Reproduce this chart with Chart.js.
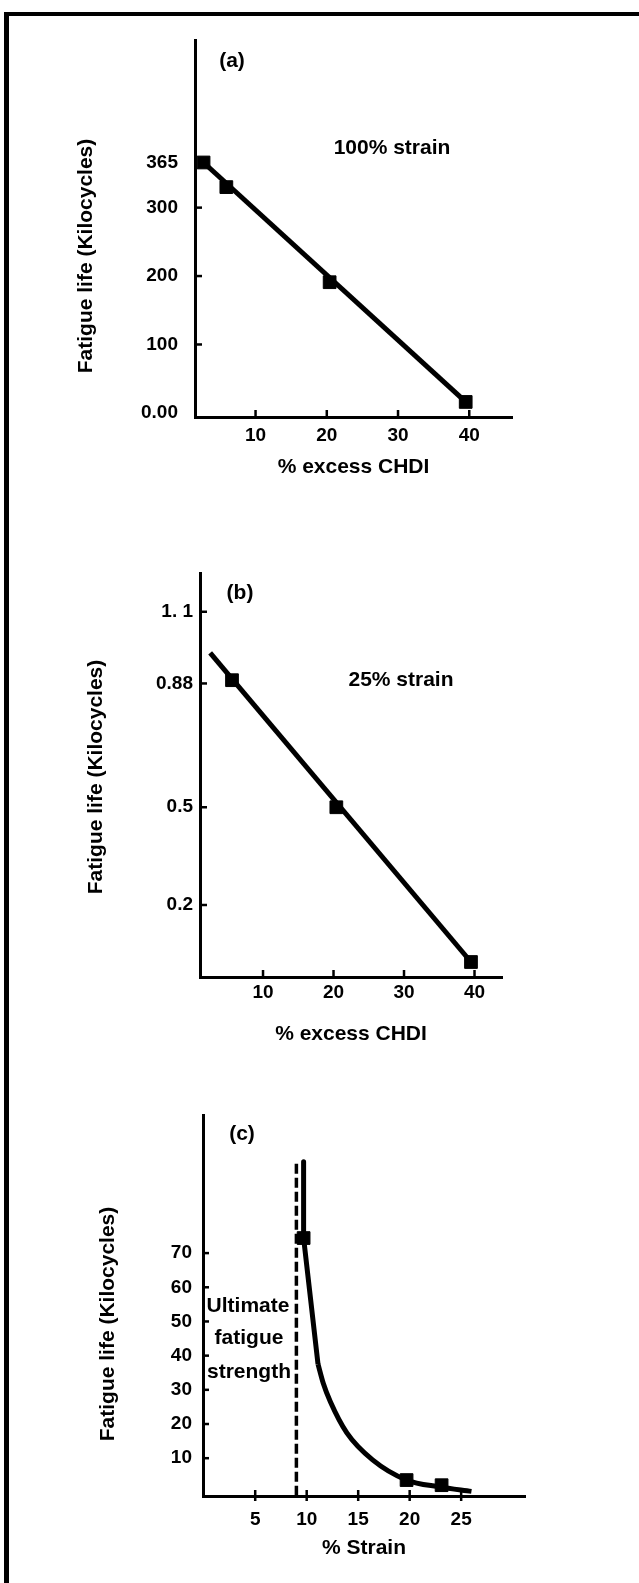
<!DOCTYPE html>
<html>
<head>
<meta charset="utf-8">
<script src="https://cdn.jsdelivr.net/npm/chart.js@4.4.1/dist/chart.umd.min.js"></script>
<style>
  html, body { margin: 0; padding: 0; background: #fff; }
  body { width: 639px; height: 1583px; position: relative; overflow: hidden; }
  .frame { position: absolute; left: 4px; top: 12px; right: 0; bottom: 0;
           border-left: 5px solid #000; border-top: 4px solid #000; }
  canvas { position: absolute; left: 0; }
</style>
</head>
<body>
<div class="frame"></div>
<canvas id="chartA" width="639" height="500" style="top:0px"></canvas>
<canvas id="chartB" width="639" height="532" style="top:520px"></canvas>
<canvas id="chartC" width="639" height="523" style="top:1060px"></canvas>
<script>
// (a) 100% strain
const chdiA = [2.7, 5.9, 20.4, 39.5];
const lifeA = [366, 330, 191, 16];
const fitAx = [2.7, 39.5];
const fitAy = [366, 16];
const yTicksA = [0, 100, 200, 300, 365];
const yLabelsA = ['0.00', '100', '200', '300', '365'];
const xTicksA = [10, 20, 30, 40];

// (b) 25% strain
const chdiB = [5.6, 20.4, 39.5];
const lifeB = [0.89, 0.50, 0.025];
const fitBx = [2.5, 39.5];
const fitBy = [0.974, 0.025];
const yTicksB = [0.2, 0.5, 0.88, 1.1];
const yLabelsB = ['0.2', '0.5', '0.88', '1. 1'];
const xTicksB = [10, 20, 30, 40];

// (c) fatigue life vs strain
const strainC = [9.7, 19.7, 23.1];
const lifeC = [74.4, 3.6, 2.1];
// steep upper part of the curve
const steepCx = [9.7, 9.7, 11.1];
const steepCy = [96.7, 74.4, 37.5];
// curved tail
const tailCx = [11.1, 11.6, 12.3, 13.9, 16.4, 19.7, 22.9, 26.0];
const tailCy = [37.5, 32.0, 26.5, 17.4, 9.5, 3.6, 1.6, 0.3];
const limitCx = [9, 9];
const limitCy = [-1, 97];
const yTicksC = [10, 20, 30, 40, 50, 60, 70];
const xTicksC = [5, 10, 15, 20, 25];

const FONT = "'Liberation Sans', Arial, Helvetica, sans-serif";
const ytitle = 'Fatigue life (Kilocycles)';

function pts(xs, ys) {
    return xs.map((x, i) => ({ x: x, y: ys[i] }));
}

function markers(xs, ys) {
    return { data: pts(xs, ys), showLine: false, pointStyle: 'rect', pointRadius: 9,
             backgroundColor: '#000', borderColor: '#000', borderWidth: 1 };
}

function line(xs, ys, width, dash, smooth) {
    const ds = { data: pts(xs, ys), showLine: true, borderColor: '#000', borderWidth: width,
                 borderDash: dash || [], pointRadius: 0, tension: 0, fill: false,
                 borderCapStyle: 'butt', borderJoinStyle: 'round' };
    if (smooth) ds.cubicInterpolationMode = 'monotone';
    return ds;
}

// texts placed on the canvas (panel letters, notes, y titles)
const notesPlugin = {
    id: 'notes',
    afterDraw(chart, args, opts) {
        const ctx = chart.ctx;
        (opts.items || []).forEach(n => {
            ctx.save();
            ctx.fillStyle = '#000';
            ctx.textAlign = 'center';
            ctx.textBaseline = 'middle';
            ctx.font = 'bold ' + (n.size || 21) + 'px ' + FONT;
            ctx.translate(n.x, n.y);
            if (n.rot) ctx.rotate(n.rot);
            ctx.fillText(n.text, 0, 0);
            ctx.restore();
        });
    }
};

// short tick marks pointing into the plot
const tickPlugin = {
    id: 'inTicks',
    afterDraw(chart, args, opts) {
        const ctx = chart.ctx, a = chart.chartArea;
        const xs = chart.scales.x, ys = chart.scales.y;
        ctx.save();
        ctx.strokeStyle = '#000';
        ctx.lineWidth = 2.5;
        (opts.x || []).forEach(v => {
            const px = xs.getPixelForValue(v);
            ctx.beginPath();
            ctx.moveTo(px, a.bottom + (opts.down || 0));
            ctx.lineTo(px, a.bottom - opts.len);
            ctx.stroke();
        });
        (opts.y || []).forEach(v => {
            const py = ys.getPixelForValue(v);
            ctx.beginPath();
            ctx.moveTo(a.left, py);
            ctx.lineTo(a.left + opts.len, py);
            ctx.stroke();
        });
        ctx.restore();
    }
};

function panel(id, p) {
    const tickFont = { family: FONT, size: 19, weight: 'bold' };
    return new Chart(document.getElementById(id), {
        type: 'scatter',
        data: { datasets: p.datasets },
        options: {
            responsive: false,
            animation: false,
            layout: { padding: { left: 0, top: p.top, right: p.right, bottom: 0 } },
            plugins: {
                legend: { display: false },
                tooltip: { enabled: false },
                notes: { items: p.notes },
                inTicks: p.marks
            },
            scales: {
                x: {
                    type: 'linear', min: p.xMin, max: p.xMax,
                    grid: { display: false, drawTicks: false },
                    border: { display: true, color: '#000', width: 3 },
                    afterFit: s => { s.height = p.xH; },
                    afterBuildTicks: s => { s.ticks = p.xTicks.map(v => ({ value: v })); },
                    ticks: { color: '#000', font: tickFont, padding: p.xPad, autoSkip: false,
                             maxRotation: 0, callback: v => String(v) },
                    title: { display: true, text: p.xTitle, color: '#000',
                             font: { family: FONT, size: 21, weight: 'bold' },
                             padding: { top: 0, bottom: p.xTitlePad } }
                },
                y: {
                    type: 'linear', min: p.yMin, max: p.yMax,
                    grid: { display: false, drawTicks: false },
                    border: { display: true, color: '#000', width: 3 },
                    afterFit: s => { s.width = p.yW; },
                    afterBuildTicks: s => { s.ticks = p.yTicks.map(v => ({ value: v })); },
                    ticks: { color: '#000', font: tickFont, padding: p.yPad, autoSkip: false,
                             callback: (v, i) => p.yLabels ? p.yLabels[i] : String(v) }
                }
            }
        },
        plugins: [notesPlugin, tickPlugin]
    });
}

panel('chartA', {
    datasets: [markers(chdiA, lifeA), line(fitAx, fitAy, 5)],
    top: 40, right: 127, xH: 83, yW: 195,
    xMin: 1.5, xMax: 46, yMin: -6, yMax: 545,
    xTicks: xTicksA, yTicks: yTicksA, yLabels: yLabelsA,
    xPad: 7, yPad: 17, xTitle: '% excess CHDI', xTitlePad: 20,
    marks: { x: xTicksA, y: [100, 200, 300], len: 7 },
    notes: [
        { text: '(a)', x: 232, y: 61 },
        { text: '100% strain', x: 392, y: 148 },
        { text: ytitle, x: 86, y: 256, rot: -Math.PI / 2 }
    ]
});

panel('chartB', {
    datasets: [markers(chdiB, lifeB), line(fitBx, fitBy, 5)],
    top: 53, right: 137, xH: 75, yW: 200,
    xMin: 1.06, xMax: 43.9, yMin: -0.021, yMax: 1.219,
    xTicks: xTicksB, yTicks: yTicksB, yLabels: yLabelsB,
    xPad: 4, yPad: 7, xTitle: '% excess CHDI', xTitlePad: 5,
    marks: { x: xTicksB, y: yTicksB, len: 7 },
    notes: [
        { text: '(b)', x: 240, y: 73 },
        { text: '25% strain', x: 401, y: 160 },
        { text: ytitle, x: 96, y: 257, rot: -Math.PI / 2 }
    ]
});

panel('chartC', {
    datasets: [markers(strainC, lifeC), line(steepCx, steepCy, 5),
               line(tailCx, tailCy, 5, null, true),
               line(limitCx, limitCy, 3.5, [10, 4])],
    top: 55, right: 114, xH: 87, yW: 203,
    xMin: -0.07, xMax: 31.2, yMin: -1.06, yMax: 110.4,
    xTicks: xTicksC, yTicks: yTicksC,
    xPad: 12, yPad: 11, xTitle: '% Strain', xTitlePad: 22,
    marks: { x: xTicksC, y: yTicksC, len: 6, down: 5 },
    notes: [
        { text: '(c)', x: 242, y: 74 },
        { text: 'Ultimate', x: 248, y: 246 },
        { text: 'fatigue', x: 249, y: 278 },
        { text: 'strength', x: 249, y: 312 },
        { text: ytitle, x: 108, y: 264, rot: -Math.PI / 2 }
    ]
});
</script>
</body>
</html>
